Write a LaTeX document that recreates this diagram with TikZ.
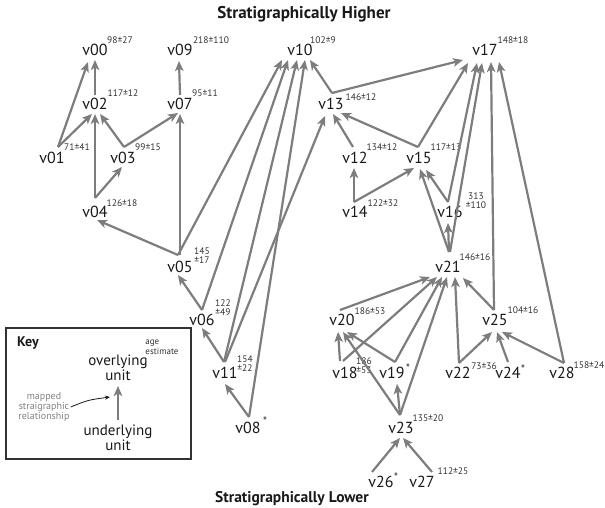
\documentclass[tikz,border=0pt]{standalone}
\usepackage{fontspec}
\setmainfont{PT Sans}
\usetikzlibrary{arrows.meta}
\definecolor{arrgray}{RGB}{125,125,125}
\definecolor{txt}{RGB}{25,25,25}
\definecolor{agetxt}{RGB}{50,50,50}
\definecolor{keygray}{RGB}{130,130,130}
\newcommand\stedge[6]{\draw[arr] ([shift={(#2,#3)}]#1.center) -- ([shift={(#5,#6)}]#4.center);}
\begin{document}
\begin{tikzpicture}[x=1pt,y=-1pt,
  unit/.style={font=\fontsize{16}{16}\selectfont, inner sep=0pt, text=txt},
  age/.style={font=\fontsize{9.5}{9}\selectfont, inner sep=0pt, text=agetxt, align=center},
  star/.style={font=\fontsize{12}{12}\selectfont, inner sep=0pt, text=agetxt, anchor=base},
  arr/.style={draw=arrgray, line width=2.2pt, -{Stealth[length=10pt,width=8.5pt,inset=2.5pt]}},
  title/.style={font=\bfseries, text=txt, inner sep=0pt}]
\useasboundingbox (0,0) rectangle (605,508);
% titles
\node[title, font=\fontsize{17}{17}\selectfont\bfseries] (th) at (304,14) {Stratigraphically Higher};
\node[title, font=\fontsize{15.5}{15.5}\selectfont\bfseries] (tl) at (292,499) {Stratigraphically Lower};
% units
\node[unit] (v00) at (95,50) {v00};
\node[unit] (v02) at (95,104) {v02};
\node[unit] (v01) at (52,158) {v01};
\node[unit] (v03) at (123,158) {v03};
\node[unit] (v04) at (95,212) {v04};
\node[unit] (v09) at (180,50) {v09};
\node[unit] (v07) at (180,104) {v07};
\node[unit] (v05) at (180,267) {v05};
\node[unit] (v06) at (202,320) {v06};
\node[unit] (v11) at (225,373) {v11};
\node[unit] (v08) at (248,428) {v08};
\node[unit] (v10) at (300,50) {v10};
\node[unit] (v13) at (331,104) {v13};
\node[unit] (v12) at (355,158) {v12};
\node[unit] (v15) at (419,158) {v15};
\node[unit] (v14) at (355,212) {v14};
\node[unit] (v16) at (450,212) {v16};
\node[unit] (v17) at (485,50) {v17};
\node[unit] (v21) at (448,267) {v21};
\node[unit] (v20) at (342,320) {v20};
\node[unit] (v18) at (345,373) {v18};
\node[unit] (v19) at (392,373) {v19};
\node[unit] (v22) at (458,373) {v22};
\node[unit] (v24) at (508,373) {v24};
\node[unit] (v25) at (495,320) {v25};
\node[unit] (v28) at (562,373) {v28};
\node[unit] (v23) at (401,428) {v23};
\node[unit] (v26) at (381,482) {v26};
\node[unit] (v27) at (422,482) {v27};
% ages
\node[age] (a00) at (120,40) {98±27};
\node[age] (a02) at (123,93) {117±12};
\node[age] (a01) at (77,147) {71±41};
\node[age] (a03) at (148,147) {99±15};
\node[age] (a04) at (122,203) {126±18};
\node[age] (a09) at (211,40) {218±110};
\node[age] (a07) at (205,93) {95±11};
\node[age] (a05) at (202,256) {145\\±17};
\node[age] (a06) at (223,308) {122\\±49};
\node[age] (a11) at (245,364) {154\\±22};
\node[age] (a10) at (323,40) {102±9};
\node[age] (a13) at (361,97) {146±12};
\node[age] (a12) at (382,147) {134±12};
\node[age] (a15) at (446,147) {117±13};
\node[age] (a17) at (513,40) {148±18};
\node[age] (a14) at (383,203) {122±32};
\node[age] (a16) at (476,201) {313\\±110};
\node[age] (a21) at (475,257) {146±16};
\node[age] (a20) at (370,311) {186±53};
\node[age] (a18) at (364,366) {186\\±53};
\node[age] (a22) at (484,366) {73±36};
\node[age] (a25) at (523,310) {104±16};
\node[age] (a28) at (589,365) {158±24};
\node[age] (a23) at (428,418) {135±20};
\node[age] (a27) at (453,471) {112±25};
\node[star] (s19) at (408,372) {*};
\node[star] (s24) at (523,373) {*};
\node[star] (s26) at (396,481) {*};
\node[star] (s08) at (265,425) {*};
% edges
\stedge{v02}{0}{-9}{v00}{0}{10}
\stedge{v01}{6}{-11}{v00}{-7}{12}
\stedge{v01}{6}{-11}{v02}{-3}{10}
\stedge{v03}{1}{-11}{v02}{5}{10}
\stedge{v04}{0}{-14}{v02}{0}{10}
\stedge{v04}{0}{-14}{v03}{-1}{9}
\stedge{v03}{1}{-11}{v07}{-2}{9}
\stedge{v05}{0}{-12}{v07}{0}{10}
\stedge{v07}{0}{-9}{v09}{-1}{11}
\stedge{v05}{-2}{-12}{v04}{2}{8}
\stedge{v06}{0}{-10}{v05}{-2}{8}
\stedge{v11}{-1}{-11}{v06}{0}{8}
\stedge{v05}{-2}{-12}{v10}{-18}{10}
\stedge{v06}{0}{-10}{v10}{-12}{10}
\stedge{v11}{-1}{-11}{v10}{-3}{10}
\stedge{v08}{1}{-11}{v10}{5}{10}
\stedge{v11}{0}{-11}{v13}{-6}{12}
\stedge{v08}{1}{-11}{v11}{0}{11}
\stedge{v13}{1}{-11}{v10}{10}{10}
\stedge{v13}{1}{-11}{v17}{-22}{10}
\stedge{v12}{-2}{-11}{v13}{2}{10}
\stedge{v15}{-1}{-11}{v13}{10}{9}
\stedge{v15}{-1}{-11}{v17}{-17}{13}
\stedge{v14}{-1}{-10}{v12}{-1}{10}
\stedge{v14}{-1}{-10}{v15}{-5}{10}
\stedge{v16}{-2}{-10}{v15}{7}{12}
\stedge{v16}{-2}{-10}{v17}{-8}{13}
\stedge{v21}{1}{-15}{v15}{1}{11}
\stedge{v21}{1}{-15}{v16}{-2}{11}
\stedge{v21}{2}{-15}{v17}{-3}{13}
\stedge{v25}{-1}{-10}{v17}{6}{12}
\stedge{v28}{2}{-10}{v17}{14}{12}
\stedge{v20}{-2}{-10}{v21}{-18}{10}
\stedge{v18}{-2}{-12}{v21}{-11}{10}
\stedge{v19}{3}{-11}{v21}{-6}{10}
\stedge{v23}{-1}{-13}{v21}{-1}{10}
\stedge{v22}{1}{-10}{v21}{7}{10}
\stedge{v25}{-1}{-10}{v21}{15}{11}
\stedge{v18}{-5}{-12}{v20}{-4}{12}
\stedge{v23}{-1}{-13}{v20}{1}{12}
\stedge{v19}{3}{-11}{v20}{5}{12}
\stedge{v23}{-1}{-13}{v19}{5}{11}
\stedge{v26}{-9}{-10}{v23}{-1}{10}
\stedge{v27}{10}{-10}{v23}{2}{10}
\stedge{v22}{1}{-10}{v25}{-3}{12}
\stedge{v24}{0}{-11}{v25}{2}{12}
\stedge{v28}{2}{-10}{v25}{7}{12}
% key
\draw[draw=agetxt, line width=1.3pt] (6,328) rectangle (191,459);
\node[font=\fontsize{14}{14}\selectfont\bfseries, text=txt, inner sep=0pt] (key) at (28,343) {Key};
\node[age, align=left, font=\fontsize{9}{10}\selectfont] (kage) at (162,347) {age\\estimate};
\node[unit, align=center, font=\fontsize{15}{12}\selectfont] (kover) at (118,368) {overlying\\unit};
\node[unit, align=center, font=\fontsize{15}{12}\selectfont] (kunder) at (118,438) {underlying\\unit};
\draw[arr] ([shift={(0,-18)}]kunder.center) -- ([shift={(0,18)}]kover.center);
\node[align=center, text=keygray, inner sep=0pt, font=\fontsize{10}{10}\selectfont] (kmap) at (44,407) {mapped\\straigraphic\\relationship};
\coordinate (kmapend) at (110,397);
\draw[-{Stealth[length=5pt,width=4pt]}, line width=0.8pt, draw=txt] ([xshift=1]kmap.east) .. controls (88,400) .. (kmapend);
\end{tikzpicture}
\end{document}
